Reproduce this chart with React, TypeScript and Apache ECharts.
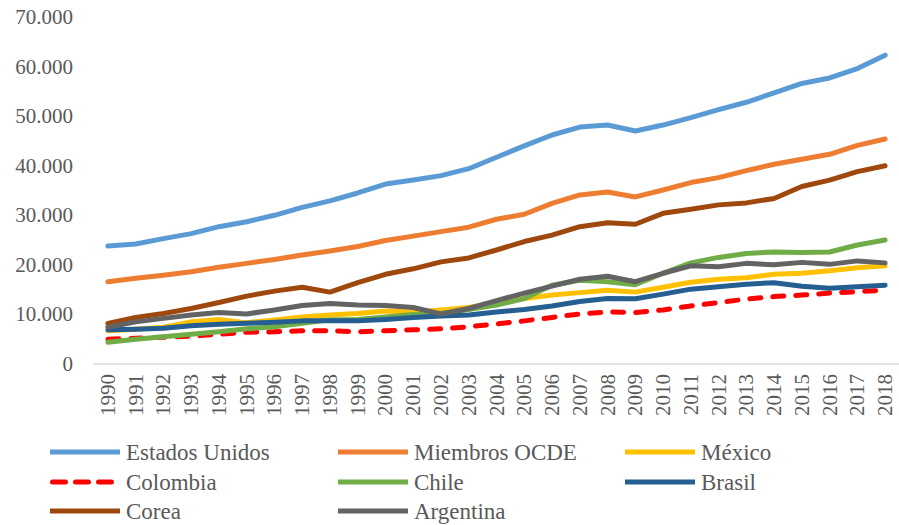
import React, { useEffect, useRef } from "react";
import * as echarts from "echarts";

const years = [
  "1990", "1991", "1992", "1993", "1994", "1995", "1996", "1997", "1998", "1999",
  "2000", "2001", "2002", "2003", "2004", "2005", "2006", "2007", "2008", "2009",
  "2010", "2011", "2012", "2013", "2014", "2015", "2016", "2017", "2018",
];

const estadosUnidos = [
  23800, 24200, 25300, 26300, 27700, 28700, 30000, 31600, 32900, 34500,
  36300, 37100, 38000, 39400, 41700, 44000, 46200, 47800, 48200, 47000,
  48200, 49700, 51300, 52800, 54700, 56600, 57700, 59600, 62300,
];
const miembrosOCDE = [
  16600, 17300, 17900, 18600, 19500, 20300, 21100, 22000, 22800, 23700,
  24900, 25800, 26700, 27600, 29200, 30200, 32400, 34100, 34700, 33700,
  35100, 36600, 37600, 39000, 40300, 41300, 42300, 44100, 45400,
];
const mexico = [
  6700, 7000, 7400, 8500, 9000, 8300, 8900, 9500, 9900, 10200,
  10700, 10500, 10900, 11400, 12400, 13200, 13900, 14400, 14900, 14500,
  15500, 16500, 17100, 17400, 18100, 18300, 18800, 19400, 19800,
];
const colombia = [
  5000, 5200, 5400, 5600, 6000, 6400, 6500, 6700, 6700, 6500,
  6700, 6900, 7100, 7500, 8100, 8700, 9400, 10100, 10500, 10400,
  10900, 11700, 12400, 13100, 13600, 13900, 14300, 14600, 14900,
];
const chile = [
  4400, 5000, 5500, 6000, 6500, 7100, 7500, 8200, 8900, 9000,
  9500, 10000, 10200, 11000, 11900, 13200, 15900, 16900, 16600, 16000,
  18300, 20400, 21500, 22300, 22600, 22500, 22600, 24000, 25000,
];
const brasil = [
  6900, 7000, 7200, 7700, 8000, 8200, 8400, 8700, 8700, 8700,
  9000, 9400, 9700, 9900, 10500, 11000, 11700, 12600, 13200, 13150,
  14100, 15100, 15600, 16100, 16400, 15700, 15300, 15600, 15900,
];
const corea = [
  8200, 9400, 10200, 11200, 12400, 13700, 14700, 15500, 14500, 16400,
  18100, 19200, 20600, 21400, 23000, 24700, 26000, 27700, 28500, 28200,
  30400, 31200, 32100, 32500, 33400, 35800, 37100, 38800, 40000,
];
const argentina = [
  7400, 8500, 9200, 9900, 10400, 10100, 10900, 11800, 12200, 11900,
  11800, 11400, 10100, 11200, 12800, 14300, 15700, 17100, 17700, 16600,
  18300, 19800, 19600, 20300, 20000, 20500, 20100, 20800, 20400,
];

const yTicks = [0, 70000, 10000]; // min, max, interval

const seriesDefs = [
  { name: "Estados Unidos", data: estadosUnidos, color: "#5B9BD5", dashed: false },
  { name: "Miembros OCDE", data: miembrosOCDE, color: "#ED7D31", dashed: false },
  { name: "México", data: mexico, color: "#FFC000", dashed: false },
  { name: "Colombia", data: colombia, color: "#FF0000", dashed: true },
  { name: "Chile", data: chile, color: "#70AD47", dashed: false },
  { name: "Brasil", data: brasil, color: "#255E91", dashed: false },
  { name: "Corea", data: corea, color: "#9E480E", dashed: false },
  { name: "Argentina", data: argentina, color: "#636363", dashed: false },
];

const legendColumns = [
  ["Estados Unidos", "Colombia", "Corea"],
  ["Miembros OCDE", "Chile", "Argentina"],
  ["México", "Brasil"],
];
const legendLefts = [50, 338, 625];
const legendRowsY = [452, 482, 511];

const FONT = "Liberation Serif";

function fmt(v: number): string {
  if (v === 0) return "0";
  const s = String(Math.round(v));
  return s.replace(/\B(?=(\d{3})+(?!\d))/g, ".");
}

export default function App() {
  const ref = useRef<HTMLDivElement>(null);
  useEffect(() => {
    if (!ref.current) return;
    const chart = echarts.init(ref.current, undefined, { renderer: "svg" });
    const dash = [11, 12];

    const legendGraphics: any[] = [];
    legendColumns.forEach((col, ci) => {
      col.forEach((name, ri) => {
        const d = seriesDefs.find((s) => s.name === name)!;
        const x0 = legendLefts[ci];
        const y = legendRowsY[ri];
        legendGraphics.push({
          type: "line",
          shape: d.dashed
            ? { x1: x0 + 2.5, y1: y, x2: x0 + 67.5, y2: y }
            : { x1: x0, y1: y, x2: x0 + 70, y2: y },
          style: {
            stroke: d.color,
            lineWidth: 5,
            lineDash: d.dashed ? [13, 10] : null,
            lineCap: d.dashed ? "round" : "butt",
          },
          silent: true,
        });
        legendGraphics.push({
          type: "text",
          x: x0 + 76,
          y: y,
          style: {
            text: name,
            fill: "#595959",
            font: `23px ${FONT}`,
            fontFamily: FONT,
            fontSize: 23,
            verticalAlign: "middle",
            align: "left",
          },
          silent: true,
        });
      });
    });

    chart.setOption({
      animation: false,
      backgroundColor: "#ffffff",
      textStyle: { fontFamily: FONT },
      grid: { left: 94, right: 0, top: 17, bottom: 161, containLabel: false },
      xAxis: {
        type: "category",
        data: years,
        boundaryGap: true,
        axisLine: { show: true, lineStyle: { color: "#D9D9D9", width: 1.5 } },
        axisTick: { show: false },
        axisLabel: {
          rotate: 90,
          margin: 10,
          color: "#595959",
          fontFamily: FONT,
          fontSize: 21,
          interval: 0,
        },
        splitLine: { show: false },
      },
      yAxis: {
        type: "value",
        min: yTicks[0],
        max: yTicks[1],
        interval: yTicks[2],
        axisLine: { show: false },
        axisTick: { show: false },
        splitLine: { show: false },
        axisLabel: {
          margin: 21,
          color: "#595959",
          fontFamily: FONT,
          fontSize: 21,
          formatter: (v: number) => fmt(v),
        },
      },
      graphic: legendGraphics,
      series: seriesDefs.map((s) => ({
        name: s.name,
        type: "line",
        data: s.data,
        symbol: "none",
        showSymbol: false,
        smooth: false,
        color: s.color,
        lineStyle: {
          width: 5,
          color: s.color,
          type: s.dashed ? dash : "solid",
          cap: "round",
          join: "round",
        },
        emphasis: { disabled: true },
      })),
    });
    return () => chart.dispose();
  }, []);
  return (
    <div
      ref={ref}
      style={{ position: "absolute", left: 0, top: 0, width: 899, height: 525 }}
    />
  );
}
